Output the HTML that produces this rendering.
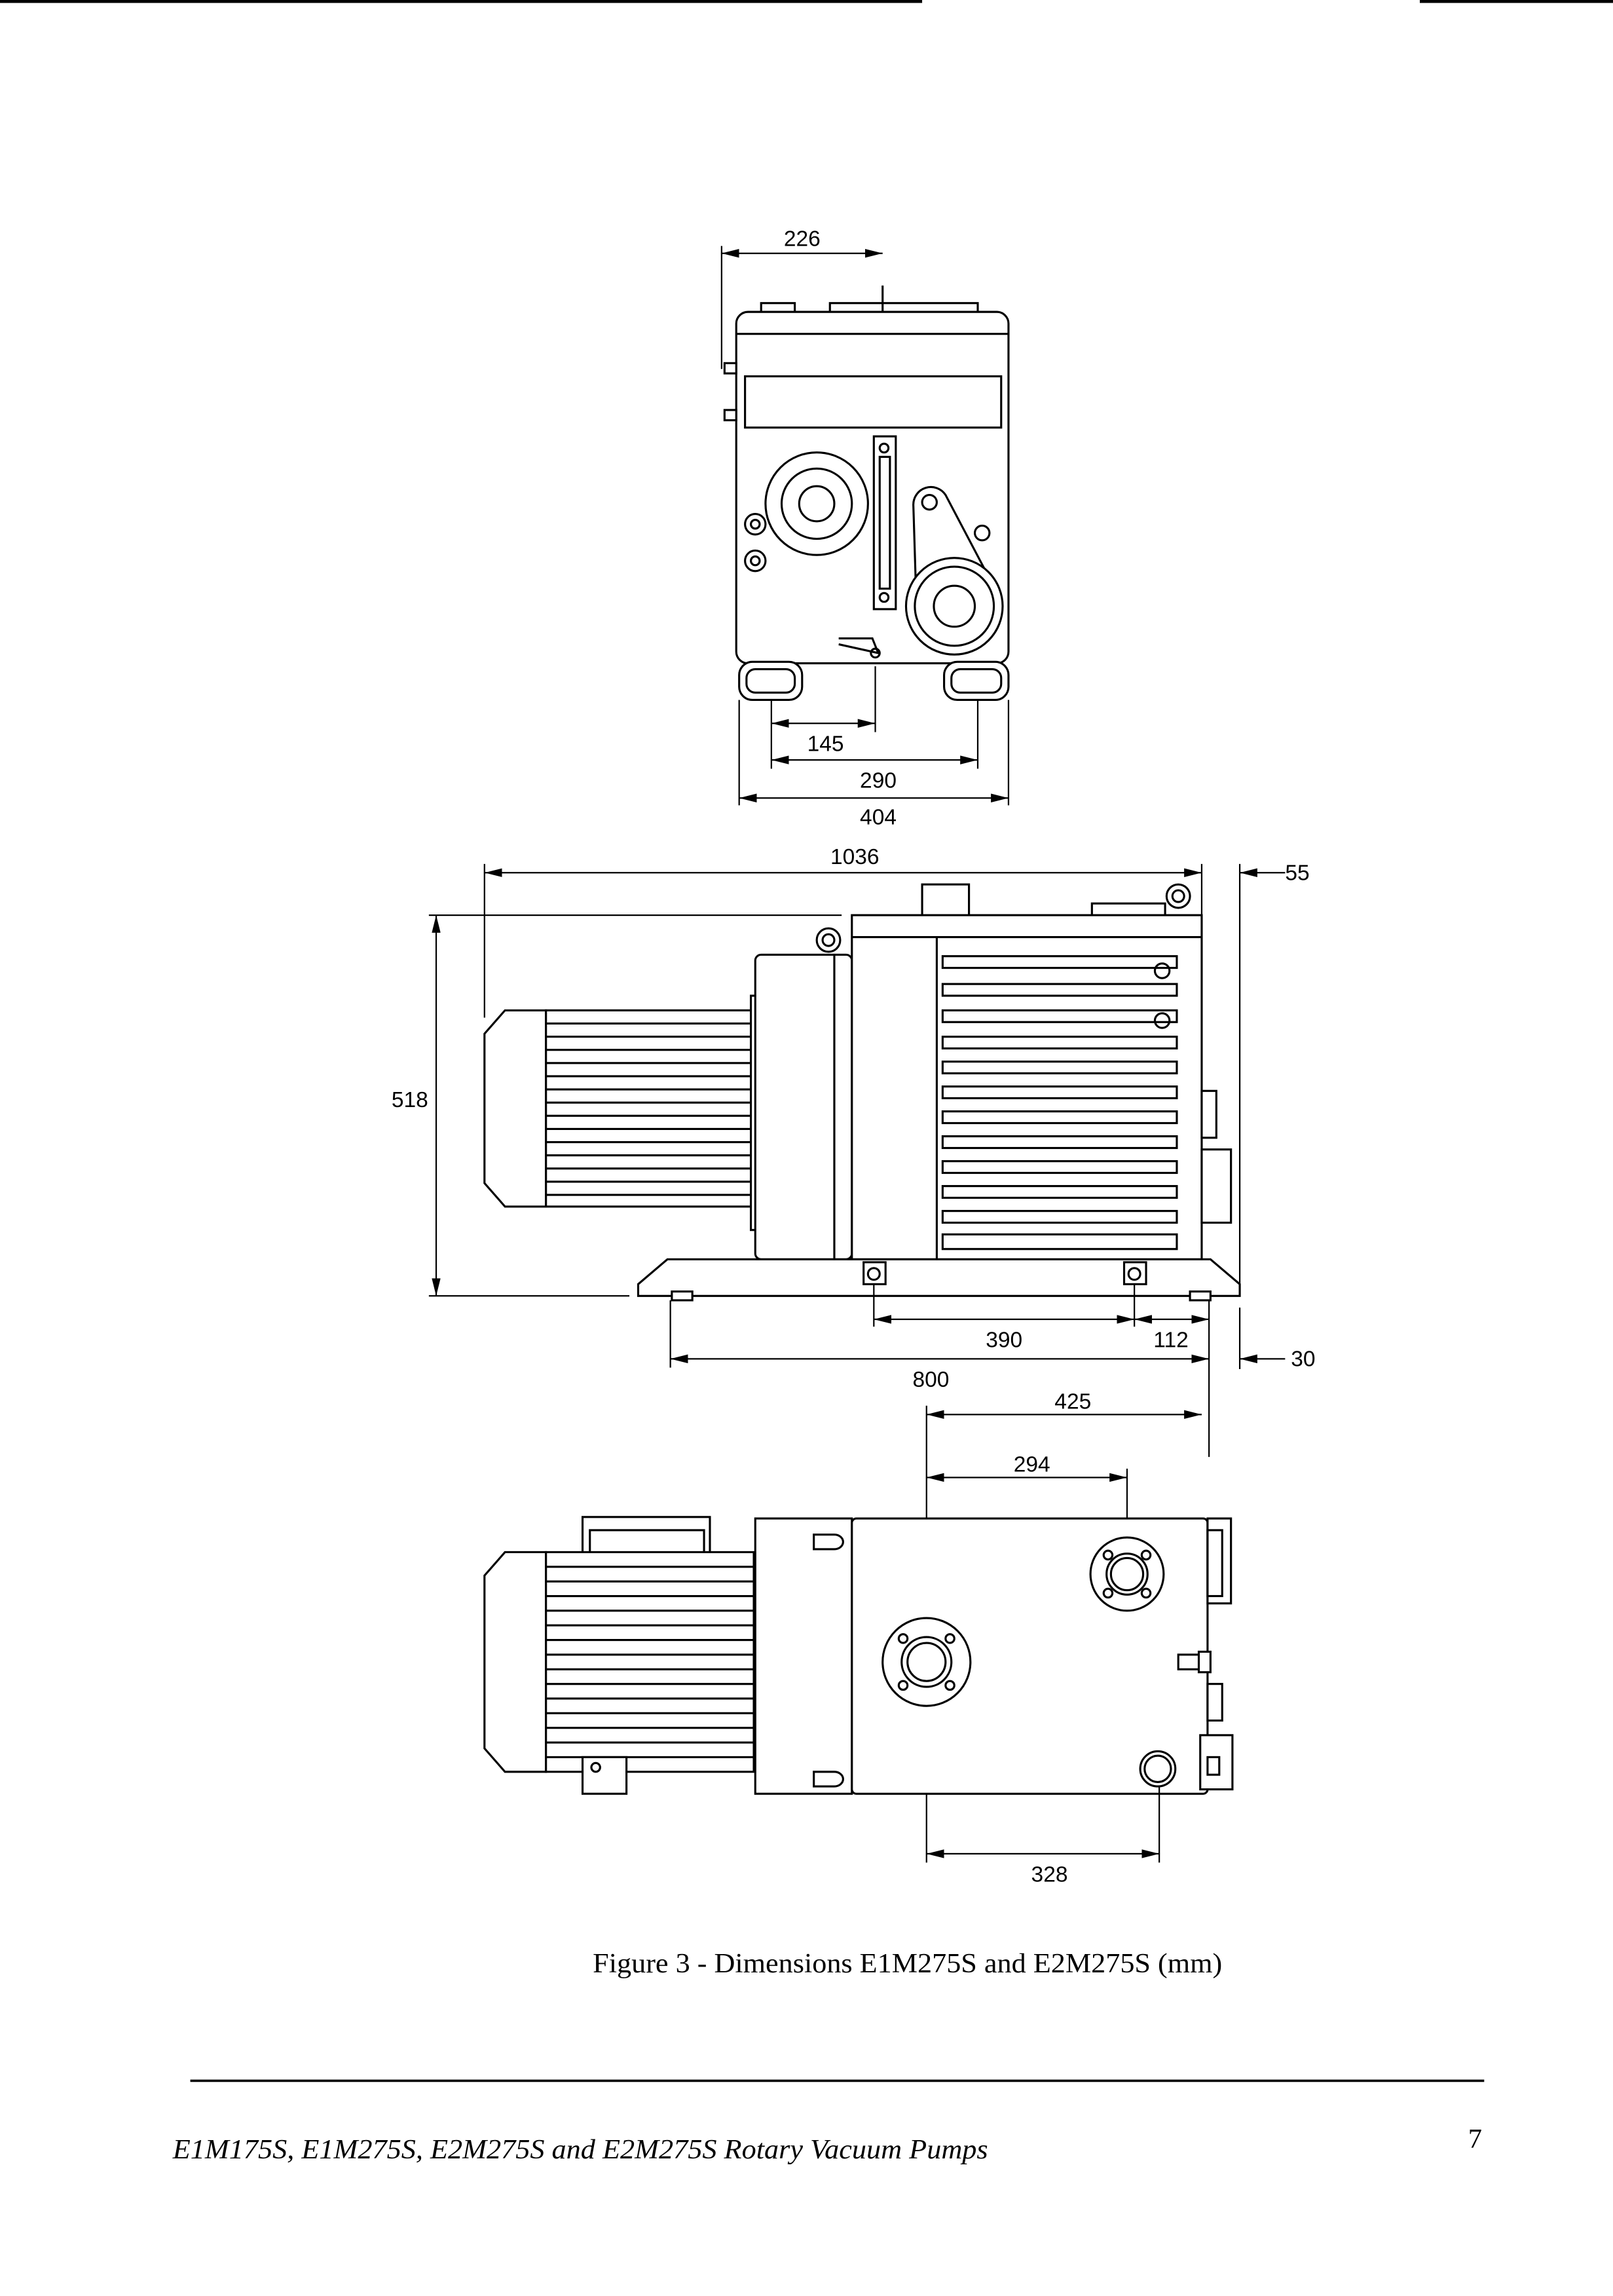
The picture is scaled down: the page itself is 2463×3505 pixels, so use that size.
<!DOCTYPE html>
<html><head><meta charset="utf-8"><style>
html,body{margin:0;padding:0;background:#fff}
svg{display:block}
text{font-family:"Liberation Sans",sans-serif;font-size:15px;fill:#000}
.s{fill:none;stroke:#000;stroke-width:1.4}
.w{fill:#fff;stroke:#000;stroke-width:1.4}
.t{stroke:#000;stroke-width:1}
</style></head><body>
<svg width="2463" height="3505" viewBox="0 0 1102 1568" preserveAspectRatio="none">
<defs>
<marker id="a" markerWidth="12" markerHeight="6" refX="12" refY="3" orient="auto-start-reverse" markerUnits="userSpaceOnUse"><path d="M0,0 L12,3 L0,6Z" fill="#000"/></marker>
</defs>
<line x1="0" y1="1" x2="630" y2="1" stroke="#000" stroke-width="2"/>
<line x1="970" y1="1" x2="1102" y2="1" stroke="#000" stroke-width="2"/>

<g>
<line class="t" x1="493" y1="168" x2="493" y2="252"/>
<line class="t" x1="493" y1="173" x2="603" y2="173" marker-start="url(#a)" marker-end="url(#a)"/>
<text x="548" y="168" text-anchor="middle">226</text>
<rect class="w" x="520" y="207" width="23" height="7"/>
<rect class="w" x="567" y="207" width="101" height="7"/>
<line class="s" x1="603" y1="195" x2="603" y2="218" stroke-width="3"/>
<rect class="w" x="503" y="213" width="186" height="240" rx="8"/>
<line class="s" x1="503" y1="228" x2="689" y2="228"/>
<rect class="s" x="509" y="257" width="175" height="35"/>
<rect class="w" x="495" y="248" width="8" height="7"/>
<rect class="w" x="495" y="280" width="8" height="7"/>
<circle class="s" cx="558" cy="344" r="35"/><circle class="s" cx="558" cy="344" r="24"/><circle class="s" cx="558" cy="344" r="12"/>
<circle class="s" cx="516" cy="358" r="7"/><circle class="s" cx="516" cy="358" r="3"/>
<circle class="s" cx="516" cy="383" r="7"/><circle class="s" cx="516" cy="383" r="3"/>
<rect class="s" x="597" y="298" width="15" height="118"/><rect class="s" x="601" y="312" width="7" height="90"/>
<circle class="s" cx="604" cy="306" r="3"/><circle class="s" cx="604" cy="408" r="3"/>
<path class="s" d="M624,345 A12,12 0 0 1 646,338 L676,395 L626,410 Z"/>
<circle class="s" cx="635" cy="343" r="5"/>
<circle class="w" cx="652" cy="414" r="33"/><circle class="s" cx="652" cy="414" r="27"/><circle class="s" cx="652" cy="414" r="14"/>
<circle class="s" cx="671" cy="364" r="5"/>
<path class="s" d="M573,436 L596,436 L600,446 L573,440"/><circle class="s" cx="598" cy="446" r="3"/>
<rect class="w" x="505" y="452" width="43" height="26" rx="9"/><rect class="s" x="510" y="457" width="33" height="16" rx="6"/>
<rect class="w" x="645" y="452" width="44" height="26" rx="9"/><rect class="s" x="650" y="457" width="34" height="16" rx="6"/>
<line class="t" x1="527" y1="478" x2="527" y2="525"/>
<line class="t" x1="598" y1="455" x2="598" y2="500"/>
<line class="t" x1="668" y1="478" x2="668" y2="525"/>
<line class="t" x1="505" y1="478" x2="505" y2="550"/>
<line class="t" x1="689" y1="478" x2="689" y2="550"/>
<line class="t" x1="527" y1="494" x2="598" y2="494" marker-start="url(#a)" marker-end="url(#a)"/>
<text x="564" y="513" text-anchor="middle">145</text>
<line class="t" x1="527" y1="519" x2="668" y2="519" marker-start="url(#a)" marker-end="url(#a)"/>
<text x="600" y="538" text-anchor="middle">290</text>
<line class="t" x1="505" y1="545" x2="689" y2="545" marker-start="url(#a)" marker-end="url(#a)"/>
<text x="600" y="563" text-anchor="middle">404</text>
</g>

<g>
<line class="t" x1="331" y1="596" x2="821" y2="596" marker-start="url(#a)" marker-end="url(#a)"/>
<text x="584" y="590" text-anchor="middle">1036</text>
<line class="t" x1="331" y1="590" x2="331" y2="695"/>
<line class="t" x1="821" y1="590" x2="821" y2="625"/>
<line class="t" x1="847" y1="590" x2="847" y2="880"/>
<line class="t" x1="878" y1="596" x2="847" y2="596" marker-end="url(#a)"/>
<text x="878" y="601">55</text>
<line class="t" x1="847" y1="893" x2="847" y2="935"/>
<line class="t" x1="878" y1="928" x2="847" y2="928" marker-end="url(#a)"/>
<text x="882" y="933">30</text>
<line class="t" x1="293" y1="625" x2="575" y2="625"/>
<line class="t" x1="293" y1="885" x2="430" y2="885"/>
<line class="t" x1="298" y1="625" x2="298" y2="885" marker-start="url(#a)" marker-end="url(#a)"/>
<text x="280" y="756" text-anchor="middle">518</text>
<path class="w" d="M345,690 L373,690 L373,824 L345,824 L331,808 L331,706 Z"/>
<rect class="w" x="373" y="690" width="140" height="134"/>
<g class="s">
<path d="M373,699H513M373,708H513M373,717H513M373,726H513M373,735H513M373,744H513M373,753H513M373,762H513M373,771H513M373,780H513M373,789H513M373,798H513M373,807H513M373,816H513"/>
</g>
<rect class="w" x="513" y="680" width="5" height="160"/>
<rect class="w" x="516" y="652" width="66" height="208" rx="4"/>
<line class="s" x1="570" y1="652" x2="570" y2="860"/>
<circle class="s" cx="566" cy="642" r="8"/><circle class="s" cx="566" cy="642" r="4"/>
<rect class="w" x="630" y="604" width="32" height="21"/>
<rect class="w" x="746" y="617" width="50" height="8"/>
<circle class="s" cx="805" cy="612" r="8"/><circle class="s" cx="805" cy="612" r="4"/>
<path class="w" d="M582,625 L821,625 L821,860 L582,860 L582,640 Z"/>
<line class="s" x1="640" y1="640" x2="640" y2="860"/>
<line class="s" x1="582" y1="640" x2="821" y2="640"/>
<g class="s">
<rect x="644" y="653" width="160" height="8"/><rect x="644" y="672" width="160" height="8"/><rect x="644" y="690" width="160" height="8"/><rect x="644" y="708" width="160" height="8"/><rect x="644" y="725" width="160" height="8"/><rect x="644" y="742" width="160" height="8"/><rect x="644" y="759" width="160" height="8"/><rect x="644" y="776" width="160" height="8"/><rect x="644" y="793" width="160" height="8"/><rect x="644" y="810" width="160" height="8"/><rect x="644" y="827" width="160" height="8"/><rect x="644" y="843" width="160" height="10"/>
</g>
<circle class="s" cx="794" cy="663" r="5"/><circle class="s" cx="794" cy="697" r="5"/>
<rect class="w" x="821" y="745" width="10" height="32"/>
<rect class="w" x="821" y="785" width="20" height="50"/>
<path class="w" d="M456,860 L827,860 L847,877 L847,885 L436,885 L436,877 Z"/>
<rect class="w" x="459" y="882" width="14" height="6"/><rect class="w" x="813" y="882" width="14" height="6"/>
<rect class="w" x="590" y="862" width="15" height="15"/><circle class="s" cx="597" cy="870" r="4"/>
<rect class="w" x="768" y="862" width="15" height="15"/><circle class="s" cx="775" cy="870" r="4"/>
<line class="t" x1="597" y1="877" x2="597" y2="906"/>
<line class="t" x1="775" y1="877" x2="775" y2="906"/>
<line class="t" x1="458" y1="888" x2="458" y2="934"/>
<line class="t" x1="826" y1="888" x2="826" y2="995"/>
<line class="t" x1="597" y1="901" x2="775" y2="901" marker-start="url(#a)" marker-end="url(#a)"/>
<text x="686" y="920" text-anchor="middle">390</text>
<line class="t" x1="775" y1="901" x2="826" y2="901" marker-start="url(#a)" marker-end="url(#a)"/>
<text x="800" y="920" text-anchor="middle">112</text>
<line class="t" x1="458" y1="928" x2="826" y2="928" marker-start="url(#a)" marker-end="url(#a)"/>
<text x="636" y="947" text-anchor="middle">800</text>
<line class="t" x1="633" y1="960" x2="633" y2="1272"/>
<line class="t" x1="633" y1="966" x2="821" y2="966" marker-start="url(#a)" marker-end="url(#a)"/>
<text x="733" y="962" text-anchor="middle">425</text>
<line class="t" x1="770" y1="1003" x2="770" y2="1050"/>
<line class="t" x1="633" y1="1009" x2="770" y2="1009" marker-start="url(#a)" marker-end="url(#a)"/>
<text x="705" y="1005" text-anchor="middle">294</text>
</g>

<g>
<rect class="w" x="398" y="1036" width="87" height="40"/>
<rect class="s" x="403" y="1045" width="78" height="30"/>
<path class="w" d="M345,1060 L373,1060 L373,1210 L345,1210 L331,1194 L331,1076 Z"/>
<rect class="w" x="373" y="1060" width="142" height="150"/>
<g class="s">
<path d="M373,1070H515M373,1080H515M373,1090H515M373,1100H515M373,1110H515M373,1120H515M373,1130H515M373,1140H515M373,1150H515M373,1160H515M373,1170H515M373,1180H515M373,1190H515M373,1200H515"/>
</g>
<rect class="w" x="398" y="1200" width="30" height="25"/><circle class="s" cx="407" cy="1207" r="3"/>
<rect class="w" x="516" y="1037" width="66" height="188"/>
<path class="w" d="M556,1048 h14 a6,5 0 0 1 0,10 h-14 z"/>
<path class="w" d="M556,1210 h14 a6,5 0 0 1 0,10 h-14 z"/>
<rect class="w" x="582" y="1037" width="243" height="188" rx="3"/>
<circle class="s" cx="633" cy="1135" r="30"/><circle class="s" cx="633" cy="1135" r="17"/><circle class="s" cx="633" cy="1135" r="13"/>
<circle class="s" cx="617" cy="1119" r="3"/><circle class="s" cx="649" cy="1119" r="3"/><circle class="s" cx="617" cy="1151" r="3"/><circle class="s" cx="649" cy="1151" r="3"/>
<circle class="s" cx="770" cy="1075" r="25"/><circle class="s" cx="770" cy="1075" r="14"/><circle class="s" cx="770" cy="1075" r="11"/>
<circle class="s" cx="757" cy="1062" r="3"/><circle class="s" cx="783" cy="1062" r="3"/><circle class="s" cx="757" cy="1088" r="3"/><circle class="s" cx="783" cy="1088" r="3"/>
<circle class="s" cx="791" cy="1208" r="12"/><circle class="s" cx="791" cy="1208" r="9"/>
<path class="w" d="M805,1130 h14 a6,5 0 0 1 0,10 h-14 z"/><rect class="w" x="819" y="1128" width="8" height="14"/>
<rect class="w" x="825" y="1037" width="16" height="58"/><rect class="s" x="825" y="1045" width="10" height="45"/>
<rect class="w" x="825" y="1150" width="10" height="25"/>
<rect class="w" x="820" y="1185" width="22" height="37"/><rect class="s" x="825" y="1200" width="8" height="12"/>
<line class="t" x1="792" y1="1220" x2="792" y2="1272"/>
<line class="t" x1="633" y1="1266" x2="792" y2="1266" marker-start="url(#a)" marker-end="url(#a)"/>
<text x="717" y="1285" text-anchor="middle">328</text>
</g>

<text x="405" y="1347" textLength="430" lengthAdjust="spacingAndGlyphs" style="font-family:'Liberation Serif',serif;font-size:19px">Figure 3 - Dimensions E1M275S and E2M275S (mm)</text>
<line x1="130" y1="1421" x2="1014" y2="1421" stroke="#000" stroke-width="1.6"/>
<text x="118" y="1474" textLength="557" lengthAdjust="spacingAndGlyphs" style="font-family:'Liberation Serif',serif;font-size:19px;font-style:italic">E1M175S, E1M275S, E2M275S and E2M275S Rotary Vacuum Pumps</text>
<text x="1003" y="1467" style="font-family:'Liberation Serif',serif;font-size:19px">7</text>
</svg>
</body></html>
